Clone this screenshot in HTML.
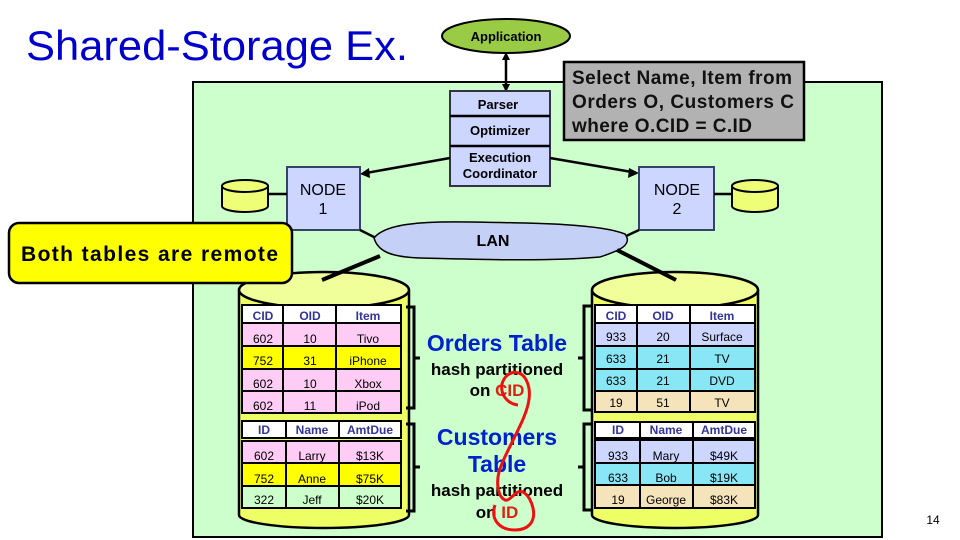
<!DOCTYPE html>
<html><head><meta charset="utf-8"><style>
body{margin:0;width:960px;height:540px;overflow:hidden;background:#fff}
svg{display:block}
text{font-family:"Liberation Sans",sans-serif}
.t{font-family:"DejaVu Sans",sans-serif;font-size:12px;text-anchor:middle}
.h{fill:#333399;font-weight:bold}
</style></head><body>
<svg width="960" height="540" viewBox="0 0 960 540">
<text x="26" y="60" font-size="42" fill="#0000cc" textLength="382" lengthAdjust="spacingAndGlyphs">Shared-Storage Ex.</text>
<rect x="193" y="82" width="689" height="455" fill="#ccffcc" stroke="#000" stroke-width="2"/>
<!-- application -->
<ellipse cx="506" cy="36" rx="64" ry="17" fill="#99cc44" stroke="#000" stroke-width="2"/>
<text x="506" y="41" font-size="13" font-weight="bold" text-anchor="middle">Application</text>
<line x1="506" y1="55" x2="506" y2="90" stroke="#000" stroke-width="2.5"/>
<polygon points="506,52 502,60 510,60" fill="#000"/><polygon points="506,92 502,84 510,84" fill="#000"/>
<!-- stack -->
<rect x="450" y="91" width="100" height="95" fill="#ccd6ff" stroke="#334" stroke-width="2"/>
<line x1="450" y1="116" x2="550" y2="116" stroke="#000" stroke-width="2.5"/>
<line x1="450" y1="146" x2="550" y2="146" stroke="#000" stroke-width="2.5"/>
<text x="498" y="109" font-size="13" font-weight="bold" text-anchor="middle">Parser</text>
<text x="500" y="135" font-size="13" font-weight="bold" text-anchor="middle">Optimizer</text>
<text x="500" y="162" font-size="13" font-weight="bold" text-anchor="middle">Execution</text>
<text x="500" y="178" font-size="13" font-weight="bold" text-anchor="middle">Coordinator</text>
<!-- sql box -->
<rect x="564" y="62" width="240" height="78" fill="#b2b2b2" stroke="#000" stroke-width="2.5"/>
<text x="572" y="84" font-size="19" font-weight="bold" fill="#111" textLength="220">Select Name, Item from</text>
<text x="572" y="108" font-size="19" font-weight="bold" fill="#111" textLength="222">Orders O, Customers C</text>
<text x="572" y="132" font-size="19" font-weight="bold" fill="#111" textLength="180">where O.CID = C.ID</text>
<!-- arrows to nodes -->
<line x1="450" y1="158" x2="366" y2="173" stroke="#000" stroke-width="2.5"/>
<polygon points="360,174 369,168 370,178" fill="#000"/>
<line x1="550" y1="158" x2="632" y2="172" stroke="#000" stroke-width="2.5"/>
<polygon points="639,173 629,168 628,178" fill="#000"/>
<!-- nodes -->
<rect x="287" y="167" width="73" height="63" fill="#ccd6ff" stroke="#334466" stroke-width="2"/>
<text x="323" y="195" font-size="16" text-anchor="middle">NODE</text><text x="323" y="214" font-size="16" text-anchor="middle">1</text>
<rect x="639" y="167" width="75" height="63" fill="#ccd6ff" stroke="#334466" stroke-width="2"/>
<text x="677" y="195" font-size="16" text-anchor="middle">NODE</text><text x="677" y="214" font-size="16" text-anchor="middle">2</text>
<!-- small cyls -->
<line x1="266" y1="194" x2="287" y2="194" stroke="#000" stroke-width="2.5"/>
<path d="M222,186 v20 a23,6 0 0 0 46,0 v-20" fill="#eeff77" stroke="#000" stroke-width="2"/>
<ellipse cx="245" cy="186" rx="23" ry="6" fill="#eeff77" stroke="#000" stroke-width="2"/>
<line x1="714" y1="194" x2="733" y2="194" stroke="#000" stroke-width="2.5"/>
<path d="M732,186 v20 a23,6 0 0 0 46,0 v-20" fill="#eeff77" stroke="#000" stroke-width="2"/>
<ellipse cx="755" cy="186" rx="23" ry="6" fill="#eeff77" stroke="#000" stroke-width="2"/>
<!-- LAN -->
<line x1="360" y1="230" x2="376" y2="238" stroke="#000" stroke-width="2.5"/>
<line x1="639" y1="230" x2="622" y2="238" stroke="#000" stroke-width="2.5"/>
<path d="M374,238 C385,224 420,221 470,222 C540,223 600,224 625,234 C634,246 615,252 600,257 C540,262 470,259 420,258 C392,257 378,252 374,238 Z" fill="#c4d0f5" stroke="#000" stroke-width="1.5"/>
<text x="493" y="246" font-size="16" font-weight="bold" text-anchor="middle">LAN</text>
<!-- big cylinders -->
<path d="M239,290 v225 a85,13 0 0 0 170,0 v-225" fill="#eeff66" stroke="#000" stroke-width="2.5"/>
<ellipse cx="324" cy="290" rx="85" ry="18" fill="#f0ff99" stroke="#000" stroke-width="2.5"/>
<path d="M592,290 v225 a83,13 0 0 0 166,0 v-225" fill="#eeff66" stroke="#000" stroke-width="2.5"/>
<ellipse cx="675" cy="290" rx="83" ry="18" fill="#f0ff99" stroke="#000" stroke-width="2.5"/>
<line x1="380" y1="256" x2="322" y2="280" stroke="#000" stroke-width="4"/>
<line x1="617" y1="250" x2="676" y2="280" stroke="#000" stroke-width="4"/>
<!-- callout -->
<rect x="9" y="223" width="283" height="60" rx="10" fill="#ffff00" stroke="#000" stroke-width="2.5"/>
<text x="21" y="261" font-size="21" font-weight="bold" textLength="257">Both tables are remote</text>
<!-- left orders table -->
<g stroke="#000" stroke-width="2">
<rect x="242" y="305" width="159" height="18" fill="#fff"/>
<rect x="242" y="323" width="159" height="23" fill="#ffccf5"/>
<rect x="242" y="346" width="159" height="23" fill="#ffff00"/>
<rect x="242" y="369" width="159" height="22" fill="#ffccf5"/>
<rect x="242" y="391" width="159" height="22" fill="#ffccf5"/>
<line x1="283" y1="305" x2="283" y2="413"/><line x1="336" y1="305" x2="336" y2="413"/>
<rect x="242" y="421" width="159" height="17" fill="#fff"/>
<rect x="242" y="441" width="159" height="22" fill="#ffccf5"/>
<rect x="242" y="463" width="159" height="23" fill="#ffff00"/>
<rect x="242" y="486" width="159" height="22" fill="#ccffcc"/>
<line x1="286" y1="421" x2="286" y2="438"/><line x1="339" y1="421" x2="339" y2="438"/>
<line x1="286" y1="441" x2="286" y2="508"/><line x1="339" y1="441" x2="339" y2="508"/>
</g>
<g class="t">
<text x="263" y="320" class="h">CID</text><text x="310" y="320" class="h">OID</text><text x="368" y="320" class="h">Item</text>
<text x="263" y="343">602</text><text x="310" y="343">10</text><text x="368" y="343">Tivo</text>
<text x="263" y="365">752</text><text x="310" y="365">31</text><text x="368" y="365">iPhone</text>
<text x="263" y="388">602</text><text x="310" y="388">10</text><text x="368" y="388">Xbox</text>
<text x="263" y="410">602</text><text x="310" y="410">11</text><text x="368" y="410">iPod</text>
<text x="264" y="434" class="h">ID</text><text x="312" y="434" class="h">Name</text><text x="370" y="434" class="h">AmtDue</text>
<text x="264" y="460">602</text><text x="312" y="460">Larry</text><text x="370" y="460">$13K</text>
<text x="264" y="483">752</text><text x="312" y="483">Anne</text><text x="370" y="483">$75K</text>
<text x="264" y="504">322</text><text x="312" y="504">Jeff</text><text x="370" y="504">$20K</text>
</g>
<!-- right table -->
<g stroke="#000" stroke-width="2">
<rect x="595" y="305" width="160" height="18" fill="#fff"/>
<rect x="595" y="323" width="160" height="23" fill="#ccd6ff"/>
<rect x="595" y="346" width="160" height="23" fill="#88e6f5"/>
<rect x="595" y="369" width="160" height="22" fill="#88e6f5"/>
<rect x="595" y="391" width="160" height="21" fill="#f5e3bb"/>
<line x1="637" y1="305" x2="637" y2="412"/><line x1="690" y1="305" x2="690" y2="412"/>
<rect x="595" y="422" width="160" height="16" fill="#fff"/>
<rect x="595" y="440" width="160" height="23" fill="#ccd6ff"/>
<rect x="595" y="463" width="160" height="22" fill="#88e6f5"/>
<rect x="595" y="485" width="160" height="23" fill="#f5e3bb"/>
<line x1="640" y1="422" x2="640" y2="438"/><line x1="693" y1="422" x2="693" y2="438"/>
<line x1="640" y1="440" x2="640" y2="508"/><line x1="693" y1="440" x2="693" y2="508"/>
</g>
<g class="t">
<text x="616" y="320" class="h">CID</text><text x="663" y="320" class="h">OID</text><text x="722" y="320" class="h">Item</text>
<text x="616" y="341">933</text><text x="663" y="341">20</text><text x="722" y="341">Surface</text>
<text x="616" y="363">633</text><text x="663" y="363">21</text><text x="722" y="363">TV</text>
<text x="616" y="385">633</text><text x="663" y="385">21</text><text x="722" y="385">DVD</text>
<text x="616" y="407">19</text><text x="663" y="407">51</text><text x="722" y="407">TV</text>
<text x="618" y="434" class="h">ID</text><text x="666" y="434" class="h">Name</text><text x="724" y="434" class="h">AmtDue</text>
<text x="618" y="460">933</text><text x="666" y="460">Mary</text><text x="724" y="460">$49K</text>
<text x="618" y="482">633</text><text x="666" y="482">Bob</text><text x="724" y="482">$19K</text>
<text x="618" y="504">19</text><text x="666" y="504">George</text><text x="724" y="504">$83K</text>
</g>
<!-- brackets -->
<g fill="none" stroke="#000" stroke-width="3">
<path d="M406,307 h8 v101 h-8 M414,358 h6"/>
<path d="M406,424 h8 v87 h-8 M414,467 h6"/>
<path d="M592,306 h-8 v104 h8 M584,358 h-6"/>
<path d="M592,424 h-8 v86 h8 M584,467 h-6"/>
</g>
<!-- middle text -->
<g font-weight="bold" text-anchor="middle">
<text x="497" y="351" font-size="23" fill="#0022cc">Orders Table</text>
<text x="497" y="375" font-size="17">hash partitioned</text>
<text x="497" y="396" font-size="17">on <tspan fill="#dd2211">CID</tspan></text>
<text x="497" y="445" font-size="23" fill="#0022cc">Customers</text>
<text x="497" y="472" font-size="23" fill="#0022cc">Table</text>
<text x="497" y="496" font-size="17">hash partitioned</text>
<text x="497" y="518" font-size="17">on <tspan fill="#dd2211">ID</tspan></text>
</g>
<path d="M518,405 C508,404 500,395 502,384 C505,372 518,368 525,378 C534,392 528,410 518,430 C505,458 492,475 500,495 C506,505 510,498 514,495 C522,486 530,496 533,508 C536,522 528,530 515,530 C500,530 490,520 495,505" fill="none" stroke="#ee1111" stroke-width="3"/>
<text x="933" y="524" font-size="12" text-anchor="middle">14</text>
</svg>
</body></html>
